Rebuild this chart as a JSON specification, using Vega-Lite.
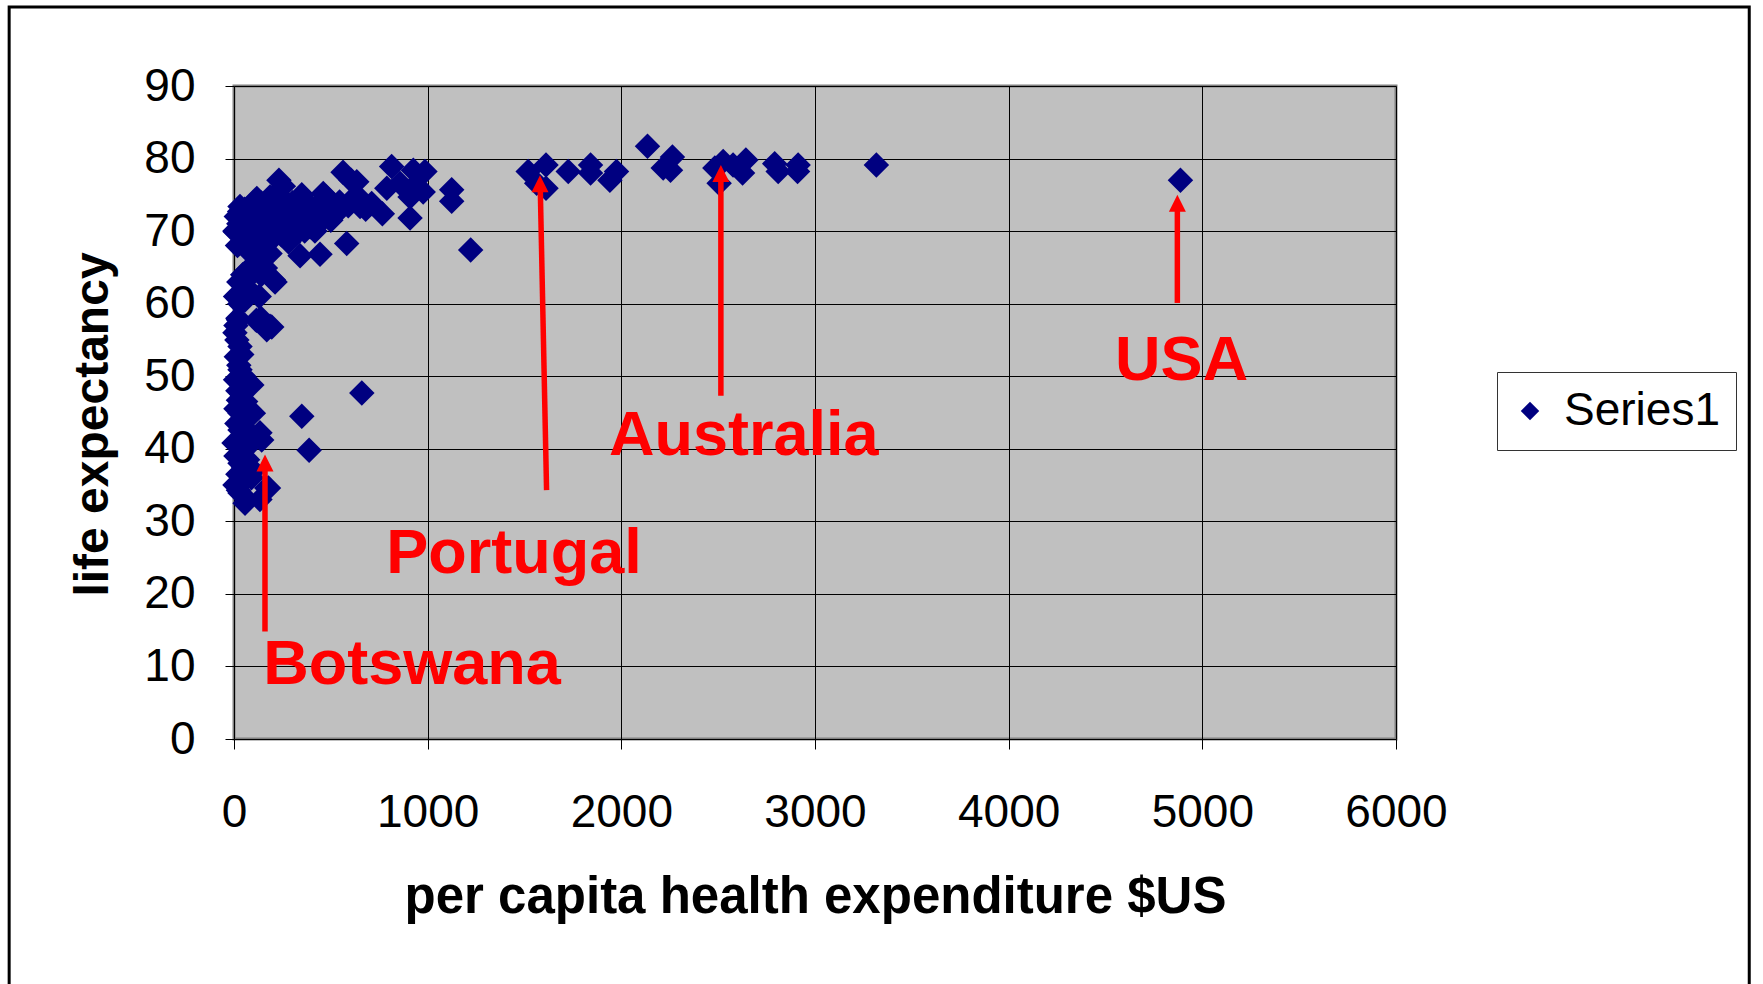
{
  "$schema": "https://vega.github.io/schema/vega-lite/v6.json",
  "width": 1162,
  "height": 653,
  "autosize": {"type": "none"},
  "padding": {"left": 234, "top": 86, "right": 367, "bottom": 245},
  "background": "white",
  "config": {
    "font": "Liberation Sans",
    "view": {"fill": "#C0C0C0", "stroke": "#808080", "strokeWidth": 3},
    "axisX": {
      "grid": true, "gridColor": "black", "gridWidth": 1, "gridOpacity": 1,
      "domain": false, "tickColor": "black", "tickSize": 10, "tickWidth": 1,
      "labelFontSize": 46, "labelPadding": 41, "labelColor": "black", "labelFlush": false, "labelOverlap": false,
      "titleFontSize": 51, "titleFontWeight": "bold", "titleColor": "black",
      "titleY": 173, "titleBaseline": "alphabetic"
    },
    "axisY": {
      "grid": true, "gridColor": "black", "gridWidth": 1, "gridOpacity": 1,
      "domain": false, "tickColor": "black", "tickSize": 9, "tickWidth": 1,
      "labelFontSize": 46, "labelPadding": 30, "labelColor": "black", "labelFlush": false, "labelOverlap": false,
      "titleFontSize": 48, "titleFontWeight": "bold", "titleColor": "black",
      "titleX": -127, "titleY": 338, "titleBaseline": "alphabetic", "titleAlign": "center", "titleAngle": -90
    }
  },
  "datasets": {
    "points": [
      {"x": 5, "y": 70}, {"x": 6, "y": 69.9}, {"x": 12, "y": 72}, {"x": 18, "y": 68}, {"x": 25, "y": 71},
      {"x": 29, "y": 72.7}, {"x": 31, "y": 73.4}, {"x": 35, "y": 69.5}, {"x": 41, "y": 69.3}, {"x": 48, "y": 71.5},
      {"x": 55, "y": 73}, {"x": 58, "y": 70}, {"x": 65, "y": 72}, {"x": 70, "y": 67.4}, {"x": 75, "y": 70.5},
      {"x": 82, "y": 72.5}, {"x": 90, "y": 69}, {"x": 99, "y": 73.9}, {"x": 105, "y": 71}, {"x": 112, "y": 68.5},
      {"x": 116, "y": 66.9}, {"x": 118, "y": 74.5}, {"x": 122, "y": 72}, {"x": 130, "y": 70}, {"x": 139, "y": 73.9},
      {"x": 145, "y": 71.5}, {"x": 152, "y": 69}, {"x": 160, "y": 72.5}, {"x": 168, "y": 70.5}, {"x": 175, "y": 73},
      {"x": 186, "y": 74.7}, {"x": 186, "y": 66.9}, {"x": 192, "y": 71}, {"x": 200, "y": 69}, {"x": 208, "y": 72.5},
      {"x": 215, "y": 70.5}, {"x": 222, "y": 73.5}, {"x": 232, "y": 77}, {"x": 238, "y": 71}, {"x": 245, "y": 69.5},
      {"x": 255, "y": 76.2}, {"x": 260, "y": 72}, {"x": 268, "y": 74}, {"x": 275, "y": 70.5}, {"x": 282, "y": 68.5},
      {"x": 290, "y": 73}, {"x": 302, "y": 73.9}, {"x": 310, "y": 71.5}, {"x": 318, "y": 69.5}, {"x": 325, "y": 72.5},
      {"x": 341, "y": 66.6}, {"x": 340, "y": 71}, {"x": 348, "y": 74.2}, {"x": 350, "y": 75}, {"x": 355, "y": 72.5},
      {"x": 365, "y": 70}, {"x": 375, "y": 73}, {"x": 389, "y": 73.6}, {"x": 393, "y": 70.6}, {"x": 405, "y": 72.5},
      {"x": 418, "y": 70}, {"x": 430, "y": 73.5}, {"x": 444, "y": 66.8}, {"x": 447, "y": 73.9}, {"x": 455, "y": 71.5},
      {"x": 461, "y": 75.2}, {"x": 465, "y": 72.5}, {"x": 476, "y": 74.7}, {"x": 488, "y": 73}, {"x": 500, "y": 71.5},
      {"x": 516, "y": 73.6}, {"x": 530, "y": 72.5}, {"x": 545, "y": 74}, {"x": 563, "y": 78.1}, {"x": 582, "y": 68.3},
      {"x": 590, "y": 73.5}, {"x": 604, "y": 77}, {"x": 615, "y": 74.5}, {"x": 634, "y": 76.8}, {"x": 651, "y": 73.4},
      {"x": 662, "y": 74.2}, {"x": 680, "y": 73}, {"x": 711, "y": 73.8}, {"x": 766, "y": 72.4}, {"x": 789, "y": 75.9},
      {"x": 814, "y": 78.9}, {"x": 857, "y": 76.6}, {"x": 909, "y": 74.7}, {"x": 909, "y": 71.8}, {"x": 926, "y": 78.4},
      {"x": 926, "y": 76.1}, {"x": 943, "y": 76.3}, {"x": 977, "y": 75.4}, {"x": 986, "y": 78.2}, {"x": 1124, "y": 75.7},
      {"x": 1124, "y": 74.1}, {"x": 1222, "y": 67.4},
      {"x": 8, "y": 61}, {"x": 25, "y": 63}, {"x": 45, "y": 64}, {"x": 60, "y": 62}, {"x": 70, "y": 64.6},
      {"x": 75, "y": 62}, {"x": 90, "y": 64}, {"x": 110, "y": 65}, {"x": 128, "y": 65.9}, {"x": 130, "y": 61},
      {"x": 140, "y": 64}, {"x": 162, "y": 64.9}, {"x": 203, "y": 63.3}, {"x": 212, "y": 63}, {"x": 57, "y": 60.5},
      {"x": 30, "y": 60}, {"x": 20, "y": 58}, {"x": 23, "y": 57.8}, {"x": 116, "y": 57.7}, {"x": 139, "y": 58},
      {"x": 152, "y": 57.5}, {"x": 169, "y": 56.4}, {"x": 186, "y": 56.9}, {"x": 195, "y": 56.8},
      {"x": 5, "y": 56}, {"x": 10, "y": 57}, {"x": 15, "y": 55}, {"x": 31, "y": 54.1}, {"x": 40, "y": 53},
      {"x": 12, "y": 52.7}, {"x": 25, "y": 51.5}, {"x": 31, "y": 50.9}, {"x": 8, "y": 49.5}, {"x": 50, "y": 50},
      {"x": 92, "y": 48.8}, {"x": 20, "y": 48}, {"x": 40, "y": 47.5}, {"x": 23, "y": 46.7}, {"x": 60, "y": 46.5},
      {"x": 10, "y": 45.5}, {"x": 31, "y": 44.9}, {"x": 100, "y": 44.9}, {"x": 70, "y": 45}, {"x": 15, "y": 43.5},
      {"x": 31, "y": 42.6}, {"x": 50, "y": 43}, {"x": 80, "y": 42}, {"x": 134, "y": 42.2}, {"x": 143, "y": 41.2},
      {"x": 118, "y": 41.7}, {"x": 0, "y": 40.8}, {"x": 25, "y": 41}, {"x": 60, "y": 40}, {"x": 10, "y": 39},
      {"x": 31, "y": 38}, {"x": 49, "y": 37.5}, {"x": 70, "y": 38.5}, {"x": 20, "y": 36.5}, {"x": 100, "y": 37},
      {"x": 90, "y": 36}, {"x": 45, "y": 35.5}, {"x": 5, "y": 35}, {"x": 23, "y": 34.3}, {"x": 31, "y": 33.9},
      {"x": 66, "y": 33}, {"x": 57, "y": 32.5}, {"x": 134, "y": 33}, {"x": 169, "y": 34.6}, {"x": 178, "y": 34.6},
      {"x": 350, "y": 44.5}, {"x": 388, "y": 39.8}, {"x": 660, "y": 47.7},
      {"x": 1519, "y": 78.2}, {"x": 1611, "y": 79.1}, {"x": 1563, "y": 76.6}, {"x": 1611, "y": 75.9}, {"x": 1726, "y": 78.2},
      {"x": 1841, "y": 79.1}, {"x": 1841, "y": 78}, {"x": 1975, "y": 78.2}, {"x": 1941, "y": 77}, {"x": 2135, "y": 81.7},
      {"x": 2264, "y": 80.2}, {"x": 2216, "y": 78.7}, {"x": 2254, "y": 78.4}, {"x": 2483, "y": 78.7}, {"x": 2505, "y": 76.6},
      {"x": 2526, "y": 79.6}, {"x": 2577, "y": 79.1}, {"x": 2643, "y": 79.8}, {"x": 2626, "y": 78}, {"x": 2792, "y": 79.3},
      {"x": 2810, "y": 78.2}, {"x": 2913, "y": 79.1}, {"x": 2910, "y": 78.2}, {"x": 3317, "y": 79.1}, {"x": 4887, "y": 77}
    ],
    "arrows": [
      {"name": "Botswana", "x": 160, "y": 14.8, "x2": 160, "y2": 38.0},
      {"name": "Portugal", "x": 1614, "y": 34.3, "x2": 1581, "y2": 76.5},
      {"name": "Australia", "x": 2514, "y": 47.3, "x2": 2514, "y2": 77.9},
      {"name": "USA", "x": 4871, "y": 60.1, "x2": 4871, "y2": 73.8}
    ],
    "tips": [
      {"name": "Botswana", "x": 160, "y": 39.2},
      {"name": "Portugal", "x": 1580, "y": 77.7},
      {"name": "Australia", "x": 2514, "y": 79.1},
      {"name": "USA", "x": 4871, "y": 75.0}
    ],
    "labels": [
      {"label": "Botswana", "x": 919, "y": 7.6},
      {"label": "Portugal", "x": 1446, "y": 22.9},
      {"label": "Australia", "x": 2632, "y": 39.2},
      {"label": "USA", "x": 4893, "y": 49.5}
    ],
    "frame": [
      {"x": -1161, "x2": 7824, "y": 100.9, "y2": -36}
    ]
  },
  "encoding": {
    "x": {
      "field": "x", "type": "quantitative",
      "scale": {"domain": [0, 6000], "nice": false, "zero": false},
      "axis": {"values": [0, 1000, 2000, 3000, 4000, 5000, 6000], "format": "d"},
      "title": "per capita health expenditure $US"
    },
    "y": {
      "field": "y", "type": "quantitative",
      "scale": {"domain": [0, 90], "nice": false, "zero": false},
      "axis": {"values": [0, 10, 20, 30, 40, 50, 60, 70, 80, 90], "format": "d"},
      "title": "life expectancy"
    }
  },
  "layer": [
    {
      "data": {"name": "frame"},
      "mark": {"type": "rect", "filled": false, "stroke": "black", "strokeWidth": 3, "clip": false},
      "encoding": {
        "x2": {"field": "x2"},
        "y2": {"field": "y2"}
      }
    },
    {
      "data": {"name": "points"},
      "transform": [{"calculate": "'Series1'", "as": "series"}],
      "mark": {"type": "point", "shape": "diamond", "filled": true, "size": 650, "opacity": 1, "clip": false},
      "encoding": {
        "color": {
          "field": "series", "type": "nominal",
          "scale": {"range": ["#000080"]},
          "legend": {
            "title": null, "orient": "none", "legendX": 1263, "legendY": 286,
            "padding": 16, "strokeColor": "#333333", "fillColor": "white",
            "symbolType": "diamond", "symbolSize": 340, "symbolOffset": -6, "symbolStrokeWidth": 0,
            "labelFontSize": 46, "labelFont": "Liberation Sans", "labelColor": "black", "labelOffset": 11, "labelLimit": 400
          }
        }
      }
    },
    {
      "data": {"name": "arrows"},
      "mark": {"type": "rule", "color": "#FF0000", "strokeWidth": 5.5, "clip": false},
      "encoding": {
        "x2": {"field": "x2"},
        "y2": {"field": "y2"}
      }
    },
    {
      "data": {"name": "tips"},
      "mark": {"type": "point", "shape": "M0,0L1,2L-1,2Z", "filled": true, "color": "#FF0000", "size": 289, "opacity": 1, "clip": false},
      "encoding": {}
    },
    {
      "data": {"name": "labels"},
      "mark": {"type": "text", "color": "#FF0000", "font": "Liberation Sans", "fontSize": 63, "fontWeight": "bold", "align": "center", "baseline": "alphabetic", "clip": false},
      "encoding": {
        "text": {"field": "label"}
      }
    }
  ]
}
